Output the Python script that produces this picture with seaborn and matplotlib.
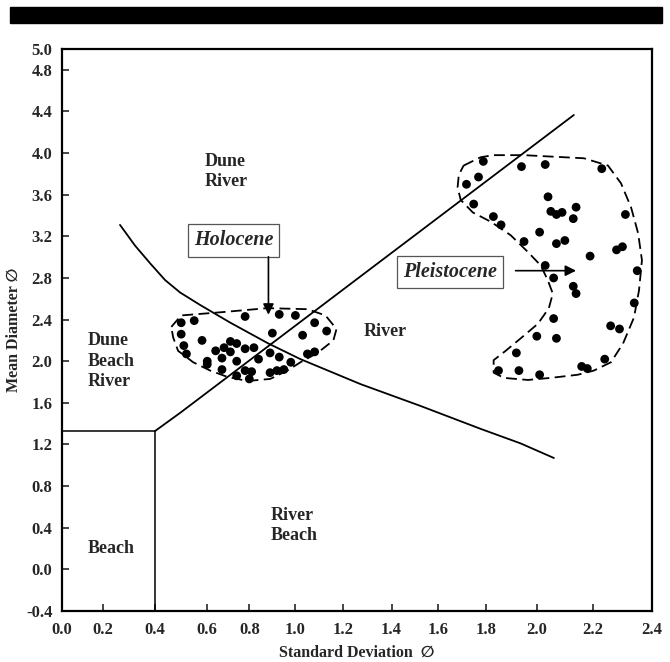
import numpy as np
import pandas as pd
import matplotlib
matplotlib.use('Agg')
import matplotlib.pyplot as plt
from matplotlib.patches import Rectangle
import seaborn as sns

# printed axis: the x ticks are unevenly spaced on the original drawing
x_ticks = [0.0, 0.2, 0.4, 0.6, 0.8, 1.0, 1.2, 1.4, 1.6, 1.8, 2.0, 2.2, 2.4]
x_tick_px = [62, 103, 155, 207, 249, 295, 343, 391, 437, 485, 536, 592, 651]
y_ticks = [-0.4, 0.0, 0.4, 0.8, 1.2, 1.6, 2.0, 2.4, 2.8, 3.2, 3.6, 4.0, 4.4, 4.8, 5.0]

# Holocene samples (std dev, mean diameter)
holo_x = [0.50, 0.55, 0.50, 0.78, 0.93, 1.00, 1.08, 1.13, 0.90, 1.03,
          0.51, 0.58, 0.52, 0.64, 0.68, 0.71, 0.74, 0.71, 0.78, 0.82,
          0.67, 0.60, 0.60, 0.74, 0.84, 0.89, 0.93, 1.05, 1.08, 0.98,
          0.95, 0.67, 0.74, 0.78, 0.81, 0.89, 0.92, 0.80]
holo_y = [2.37, 2.39, 2.26, 2.43, 2.45, 2.44, 2.37, 2.29, 2.27, 2.25,
          2.15, 2.20, 2.07, 2.10, 2.13, 2.19, 2.17, 2.09, 2.12, 2.13,
          2.03, 2.00, 1.97, 2.00, 2.02, 2.08, 2.04, 2.07, 2.09, 1.99,
          1.92, 1.92, 1.86, 1.91, 1.90, 1.89, 1.91, 1.83]

# Pleistocene samples
pleist_x = [1.79, 1.94, 2.03, 2.23, 1.77, 1.72, 1.75, 2.04, 2.05, 2.07,
            2.09, 2.14, 2.13, 2.31, 1.83, 1.86, 2.01, 1.95, 2.07, 2.10,
            2.19, 2.28, 2.30, 2.03, 2.35, 2.06, 2.13, 2.14, 2.34, 2.06,
            2.26, 2.29, 2.00, 2.07, 1.92, 1.85, 1.93, 2.01, 2.16, 2.18,
            2.24]
pleist_y = [3.92, 3.87, 3.89, 3.85, 3.77, 3.70, 3.51, 3.58, 3.44, 3.41,
            3.43, 3.48, 3.37, 3.41, 3.39, 3.31, 3.24, 3.15, 3.13, 3.16,
            3.01, 3.07, 3.10, 2.92, 2.87, 2.80, 2.72, 2.65, 2.56, 2.41,
            2.34, 2.31, 2.24, 2.22, 2.08, 1.91, 1.91, 1.87, 1.95, 1.93,
            2.02]

# environment boundaries
curve_x = [0.265, 0.323, 0.381, 0.438, 0.496, 0.573, 0.710, 0.883, 1.021,
           1.271, 1.526, 1.779, 1.937, 2.061]
curve_y = [3.31, 3.11, 2.94, 2.78, 2.66, 2.54, 2.37, 2.17, 2.02,
           1.78, 1.57, 1.35, 1.21, 1.07]
diag_x = [0.40, 0.496, 2.132]
diag_y = [1.33, 1.504, 4.366]
beach_x = [0.0, 0.4, 0.4]
beach_y = [1.33, 1.33, -0.4]

# dashed outlines of the two sample groups
holo_out_x = [0.462, 0.500, 0.662, 0.878, 1.050, 1.125, 1.171, 1.158, 1.092,
              1.021, 0.965, 0.891, 0.790, 0.695, 0.614, 0.546, 0.488, 0.469, 0.462]
holo_out_y = [2.33, 2.44, 2.47, 2.51, 2.50, 2.44, 2.31, 2.20, 2.08,
              1.99, 1.91, 1.83, 1.81, 1.85, 1.91, 1.99, 2.10, 2.23, 2.33]
pleist_out_x = [1.708, 1.779, 1.831, 1.949, 2.168, 2.251, 2.295, 2.329, 2.353,
                2.366, 2.356, 2.339, 2.302, 2.261, 2.203, 2.146, 2.050, 1.965,
                1.871, 1.831, 1.831, 1.878, 1.937, 2.004, 2.043, 2.057, 2.039,
                2.014, 1.965, 1.898, 1.820, 1.746, 1.696, 1.683, 1.688, 1.708]
pleist_out_y = [3.88, 3.96, 3.98, 3.98, 3.95, 3.88, 3.71, 3.48, 3.23,
                2.97, 2.68, 2.42, 2.17, 1.99, 1.91, 1.87, 1.84, 1.82,
                1.84, 1.89, 2.01, 2.10, 2.22, 2.36, 2.51, 2.65, 2.78,
                2.92, 3.05, 3.21, 3.34, 3.43, 3.55, 3.67, 3.79, 3.88]


def make_scale(vals, pix):
    v = np.asarray(vals, float)
    p = np.asarray(pix, float)
    s0 = (p[1] - p[0]) / (v[1] - v[0])
    s1 = (p[-1] - p[-2]) / (v[-1] - v[-2])
    v = np.concatenate([[v[0] - 100], v, [v[-1] + 100]])
    p = np.concatenate([[p[0] - 100 * s0], p, [p[-1] + 100 * s1]])
    fwd = lambda x: np.interp(x, v, p)
    inv = lambda q: np.interp(q, p, v)
    return fwd, inv


sns.set_style('ticks')
plt.rcParams['font.family'] = ['Liberation Serif', 'DejaVu Sans']
plt.rcParams['font.weight'] = 'bold'

fig = plt.figure(figsize=(6.7, 6.62), dpi=100)
ax = fig.add_axes([62 / 670, 1 - 611 / 662, 590 / 670, 562 / 662])
fig.add_artist(Rectangle((10 / 670, 1 - 23 / 662), 652 / 670, 16 / 662,
                         transform=fig.transFigure, color='black'))

ax.set_xscale('function', functions=make_scale(x_ticks, x_tick_px))

df = pd.concat([
    pd.DataFrame({'sd': holo_x, 'mean': holo_y, 'group': 'Holocene'}),
    pd.DataFrame({'sd': pleist_x, 'mean': pleist_y, 'group': 'Pleistocene'}),
])
sns.scatterplot(data=df, x='sd', y='mean', color='black', s=40,
                edgecolor='none', legend=False, ax=ax, zorder=3)

ax.plot(curve_x, curve_y, color='black', lw=1.3)
ax.plot(diag_x, diag_y, color='black', lw=1.3)
ax.plot(beach_x, beach_y, color='black', lw=1.1)
ax.plot(holo_out_x, holo_out_y, color='black', lw=1.3, ls=(0, (6, 3)))
ax.plot(pleist_out_x, pleist_out_y, color='black', lw=1.3, ls=(0, (6, 3)))

lab = dict(fontsize=13, fontweight='bold', ha='left', va='center', linespacing=1.25)
ax.text(0.59, 3.82, 'Dune\nRiver', **lab)
ax.text(0.127, 2.0, 'Dune\nBeach\nRiver', **lab)
ax.text(1.283, 2.29, 'River', **lab)
ax.text(0.891, 0.42, 'River\nBeach', **lab)
ax.text(0.127, 0.2, 'Beach', **lab)

box = dict(boxstyle='square,pad=0.3', fc='white', ec='#555555', lw=0.9)
ax.text(0.724, 3.16, 'Holocene', fontsize=14.5, fontstyle='italic',
        fontweight='bold', ha='center', va='center', bbox=box)
ax.text(1.65, 2.86, 'Pleistocene', fontsize=14.5, fontstyle='italic',
        fontweight='bold', ha='center', va='center', bbox=box)
arrow = dict(arrowstyle='-|>', color='black', lw=1.2, mutation_scale=16)
ax.annotate('', xy=(0.883, 2.42), xytext=(0.883, 3.03), arrowprops=arrow)
ax.annotate('', xy=(2.15, 2.87), xytext=(1.906, 2.87), arrowprops=arrow)

ax.set_xlim(0, 2.4)
ax.set_ylim(-0.4, 5.0)
ax.set_xticks(x_ticks)
ax.set_xticklabels([f'{v:.1f}' for v in x_ticks])
ax.set_yticks(y_ticks)
ax.set_yticklabels([f'{v:.1f}' for v in y_ticks])
ax.xaxis.set_minor_locator(matplotlib.ticker.NullLocator())
ax.tick_params(direction='in', length=5, width=1.2, labelsize=12)
ax.tick_params(axis='x', pad=8)
ax.tick_params(axis='y', pad=7)
for sp in ax.spines.values():
    sp.set_linewidth(1.6)
    sp.set_color('black')

ax.set_xlabel('Standard Deviation  \u2205', fontsize=11.5, fontweight='bold', labelpad=5)
ax.set_ylabel('Mean Diameter \u2205', fontsize=11.5, fontweight='bold', labelpad=3)

fig.savefig('out.png', dpi=100)
